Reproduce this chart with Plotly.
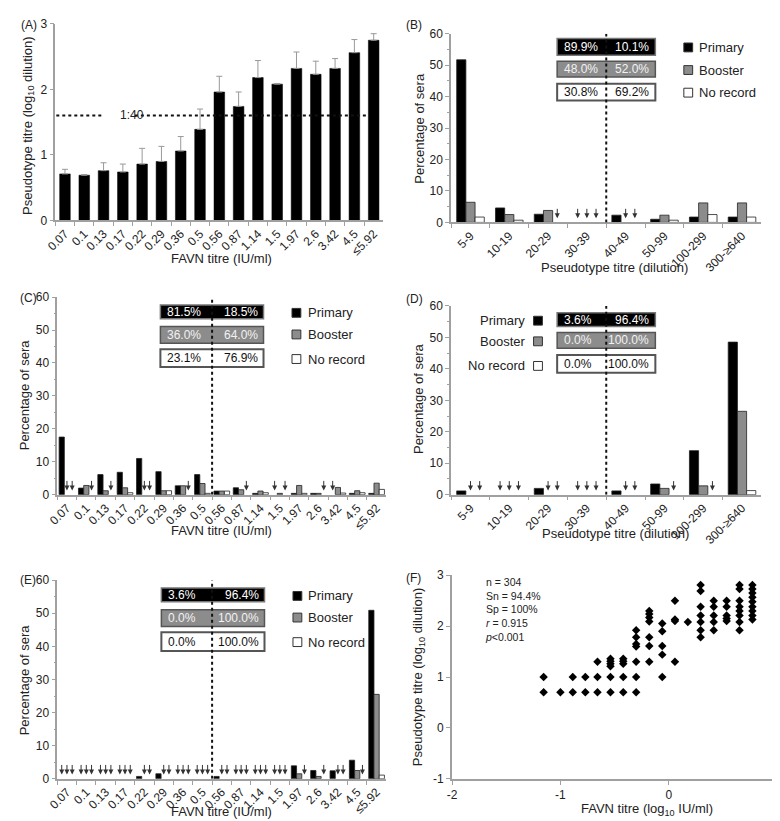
import plotly.graph_objects as go

# ---------------- data ----------------
FAVN_LABELS = ["0.07", "0.1", "0.13", "0.17", "0.22", "0.29", "0.36", "0.5", "0.56",
               "0.87", "1.14", "1.5", "1.97", "2.6", "3.42", "4.5", "≤5.92"]
PSEUDO_LABELS = ["5-9", "10-19", "20-29", "30-39", "40-49", "50-99", "100-299", "300-≥640"]

# (A) mean pseudotype titre (log10 dilution) per FAVN titre, with upper SD
a_mean = [0.71, 0.69, 0.76, 0.74, 0.86, 0.90, 1.06, 1.39, 1.96, 1.74, 2.18, 2.08, 2.32, 2.23, 2.32, 2.56, 2.75]
a_err = [0.07, 0.01, 0.12, 0.12, 0.24, 0.23, 0.22, 0.31, 0.24, 0.22, 0.26, 0.01, 0.25, 0.20, 0.15, 0.20, 0.10]
a_cutoff = 1.602  # log10(40)
a_cutoff_label = "1:40"

SERIES_NAMES = ["Primary", "Booster", "No record"]

# (B) % of sera per pseudotype titre (FAVN < 0.5 IU/ml)
b_primary = [51.7, 4.6, 2.6, 0, 2.3, 1.0, 1.7, 1.7]
b_booster = [6.4, 2.5, 3.8, 0, 0, 2.3, 6.2, 6.2]
b_norecord = [1.7, 0.7, 0, 0, 0, 0.7, 2.5, 1.7]
b_pct = [["89.9%", "10.1%"], ["48.0%", "52.0%"], ["30.8%", "69.2%"]]

# (C) % of sera per FAVN titre (pseudotype < 1:40)
c_primary = [17.5, 2.0, 6.1, 6.8, 11.0, 7.0, 2.7, 6.1, 1.1, 2.1, 0.4, 0, 0.4, 0.4, 0, 0.4, 0.4]
c_booster = [0, 2.8, 1.2, 2.1, 0, 1.2, 2.7, 3.4, 1.1, 1.5, 1.1, 0.4, 2.8, 0.4, 2.2, 1.2, 3.5]
c_norecord = [0, 0, 0, 0.6, 0, 1.2, 0, 0.4, 1.1, 0, 0.6, 0, 0.4, 0, 0.5, 0.6, 1.6]
c_pct = [["81.5%", "18.5%"], ["36.0%", "64.0%"], ["23.1%", "76.9%"]]

# (D) % of sera per pseudotype titre (FAVN >= 0.5 IU/ml)
d_primary = [1.2, 0, 2.0, 0, 1.2, 3.4, 14.0, 48.5]
d_booster = [0, 0, 0, 0, 0, 2.0, 2.8, 26.5]
d_norecord = [0, 0, 0, 0, 0, 0, 0, 1.3]
d_pct = [["3.6%", "96.4%"], ["0.0%", "100.0%"], ["0.0%", "100.0%"]]

# (E) % of sera per FAVN titre (pseudotype >= 1:40)
e_primary = [0, 0, 0, 0, 0.7, 1.5, 0, 0, 0.7, 0, 0, 0, 3.9, 2.5, 2.4, 5.6, 50.9]
e_booster = [0, 0, 0, 0, 0, 0, 0, 0, 0, 0, 0, 0, 1.5, 0.7, 0, 2.5, 25.5]
e_norecord = [0, 0, 0, 0, 0, 0, 0, 0, 0, 0, 0, 0, 0, 0, 0, 0, 1.1]
e_pct = [["3.6%", "96.4%"], ["0.0%", "100.0%"], ["0.0%", "100.0%"]]

# (F) scatter: log10 FAVN titre columns and log10 pseudotype titres in each column
f_favn_log = [-1.155, -1.0, -0.886, -0.770, -0.658, -0.538, -0.420, -0.301, -0.180,
              -0.060, 0.057, 0.176, 0.294, 0.415, 0.534, 0.653, 0.772]
f_pseudo_log = [
    [1.0, 0.70],
    [0.70],
    [1.0, 0.70],
    [1.0, 0.70],
    [1.30, 1.0, 0.70],
    [1.36, 1.31, 1.26, 1.21, 1.0, 0.70],
    [1.36, 1.31, 1.26, 1.0, 0.70],
    [1.92, 1.78, 1.65, 1.60, 1.30, 1.0, 0.70],
    [2.30, 2.24, 2.17, 2.09, 1.78, 1.61, 1.30],
    [2.05, 1.90, 1.61, 1.44, 1.0],
    [2.50, 2.13, 2.10, 1.30],
    [2.08],
    [2.81, 2.69, 2.38, 2.21, 2.08, 1.92, 1.78],
    [2.50, 2.38, 2.21, 2.08, 1.92],
    [2.50, 2.38, 2.21, 2.15, 2.10],
    [2.81, 2.73, 2.50, 2.38, 2.30, 2.21, 2.08, 1.92],
    [2.81, 2.73, 2.65, 2.57, 2.48, 2.38, 2.30, 2.21, 2.13],
]
f_stats = ["n = 304", "Sn = 94.4%", "Sp = 100%", "<i>r</i> = 0.915", "<i>p</i>&lt;0.001"]

# ---------------- style ----------------
W, H = 780, 821
FONT = "Arial, 'Liberation Sans', sans-serif"
TXT = "#222222"
AXC = "#a0a0a0"
FILLS = ["#000000", "#8c8c8c", "#ffffff"]
PCT_TXT = ["#ffffff", "#f2f2f2", "#111111"]
PCT_BORDER = ["#777777", "#555555", "#555555"]


def PX(x):
    return x / W


def PY(y):
    return 1 - y / H


fig = go.Figure()
layout = dict(width=W, height=H, margin=dict(l=0, r=0, t=0, b=0), autosize=False,
              paper_bgcolor="white", plot_bgcolor="white", showlegend=False,
              font=dict(family=FONT, color=TXT, size=12))
shapes = []
annos = []

axis_common = dict(showline=True, linecolor=AXC, linewidth=1.5, ticks="outside", tickcolor=AXC,
                   ticklen=4, tickwidth=1, showgrid=False, zeroline=False, fixedrange=True,
                   tickfont=dict(size=12, color=TXT, family=FONT))


def ax_names(n):
    s = "" if n == 1 else str(n)
    return "x" + s, "y" + s, "xaxis" + s, "yaxis" + s


def cat_xaxis(n, cats, box):
    xa, ya, xk, yk = ax_names(n)
    layout[xk] = dict(axis_common, domain=[PX(box[0]), PX(box[1])], anchor=ya, type="category",
                      categoryorder="array", categoryarray=cats, range=[-0.5, len(cats) - 0.5],
                      tickson="boundaries", tickangle=-45, tickfont=dict(size=12, color=TXT, family=FONT))


def pct_yaxis(n, box):
    xa, ya, xk, yk = ax_names(n)
    layout[yk] = dict(axis_common, domain=[PY(box[3]), PY(box[2])], anchor=xa, range=[0, 60], dtick=10,
                      minor=dict(dtick=5, ticks="outside", ticklen=2, tickcolor=AXC))


def text(x, y, s, size=12, xanchor="center", yanchor="middle", color=TXT, angle=0, align="center"):
    annos.append(dict(x=PX(x), y=PY(y), xref="paper", yref="paper", text=s, showarrow=False,
                      xanchor=xanchor, yanchor=yanchor, textangle=angle, align=align,
                      font=dict(size=size, color=color, family=FONT)))


def add_bar_panel(n, cats, series, w, box, tip=1.3):
    xa, ya, xk, yk = ax_names(n)
    cat_xaxis(n, cats, box)
    pct_yaxis(n, box)
    for k, vals in enumerate(series):
        yv = [v if v > 0 else None for v in vals]
        fig.add_trace(go.Bar(x=cats, y=yv, xaxis=xa, yaxis=ya, width=w, offset=-1.5 * w + k * w,
                             name=SERIES_NAMES[k],
                             marker=dict(color=FILLS[k], line=dict(color="#222222", width=0.8)),
                             hoverinfo="skip"))
        for i, v in enumerate(vals):
            if v == 0:
                annos.append(dict(x=i + (k - 1) * w, y=tip, xref=xa, yref=ya, text="", showarrow=True,
                                  ax=0, ay=-11, arrowhead=2, arrowsize=1, arrowwidth=1,
                                  arrowcolor="#333333"))


def pct_boxes(x0, x1, rows, pct):
    for k, (y0, y1) in enumerate(rows):
        shapes.append(dict(type="rect", xref="paper", yref="paper", x0=PX(x0), x1=PX(x1),
                           y0=PY(y1), y1=PY(y0), fillcolor=FILLS[k],
                           line=dict(color=PCT_BORDER[k], width=2 if k == 2 else 1.5), layer="above"))
        ym = (y0 + y1) / 2
        text(x0 + 5, ym, pct[k][0], size=12, xanchor="left", color=PCT_TXT[k])
        text(x1 - 4, ym, pct[k][1], size=12, xanchor="right", color=PCT_TXT[k])


def legend(sq_x, ys, text_x, side="right"):
    for k, y in enumerate(ys):
        shapes.append(dict(type="rect", xref="paper", yref="paper", x0=PX(sq_x), x1=PX(sq_x + 9),
                           y0=PY(y + 4.5), y1=PY(y - 4.5), fillcolor=FILLS[k],
                           line=dict(color="#333333", width=1)))
        text(text_x, y, SERIES_NAMES[k], size=13, xanchor="left" if side == "right" else "right")


def vdotted(n, xpos):
    xa, ya, xk, yk = ax_names(n)
    shapes.append(dict(type="line", xref=xa, yref=ya, x0=xpos, x1=xpos, y0=0, y1=60,
                       line=dict(color="#111111", width=2, dash="dot"), layer="above"))


# ---------------- (A) ----------------
boxA = (38, 372, 9, 209)
cat_xaxis(1, FAVN_LABELS, boxA)
layout["yaxis"] = dict(axis_common, domain=[PY(boxA[3]), PY(boxA[2])], anchor="x", range=[0, 3], dtick=1)
fig.add_trace(go.Bar(x=FAVN_LABELS, y=a_mean, xaxis="x", yaxis="y", width=0.55, offset=-0.275,
                     marker=dict(color="#000000", line=dict(color="#000000", width=0.5)),
                     error_y=dict(type="data", symmetric=False, array=a_err, arrayminus=[0] * len(a_err),
                                  color="#999999", thickness=1, width=3),
                     hoverinfo="skip"))
for xs in [(39, 86), (119, 357)]:
    shapes.append(dict(type="line", xref="paper", yref="y", x0=PX(xs[0]), x1=PX(xs[1]),
                       y0=a_cutoff, y1=a_cutoff, line=dict(color="#111111", width=2, dash="dot")))
annos.append(dict(x=PX(102), y=a_cutoff, xref="paper", yref="y", text=a_cutoff_label, showarrow=False,
                  font=dict(size=12, color=TXT, family=FONT)))
text(1, 1, "(A)", size=12, xanchor="left", yanchor="top")
text(10, 112, "Pseudotype titre (log<sub>10</sub> dilution)", size=13, angle=-90)
text(207, 248, "FAVN titre (IU/ml)", size=13)

# ---------------- (B) ----------------
boxB = (441, 757, 19, 211)
add_bar_panel(2, PSEUDO_LABELS, [b_primary, b_booster, b_norecord], 0.237, boxB)
pct_boxes(549, 649, [(24, 41), (47, 63), (70, 87)], b_pct)
vdotted(2, 3.5)
legend(678, [33, 56, 79], 691)
text(393, 1, "(B)", size=12, xanchor="left", yanchor="top")
text(408, 115, "Percentage of sera", size=13, angle=-90)
text(607, 257, "Pseudotype titre (dilution)", size=13)

# ---------------- (C) ----------------
boxC = (40, 375, 287, 488)
add_bar_panel(3, FAVN_LABELS, [c_primary, c_booster, c_norecord], 0.27, boxC)
pct_boxes(145, 250, [(295, 309), (317, 334), (340, 358)], c_pct)
vdotted(3, 7.5)
legend(279, [303, 325, 350], 293)
text(0, 279, "(C)", size=12, xanchor="left", yanchor="top")
text(7, 386, "Percentage of sera", size=13, angle=-90)
text(207, 524, "FAVN titre (IU/ml)", size=13)

# ---------------- (D) ----------------
boxD = (441, 757, 296, 488)
add_bar_panel(4, PSEUDO_LABELS, [d_primary, d_booster, d_norecord], 0.237, boxD)
pct_boxes(549, 649, [(303, 317), (323, 339), (346, 364)], d_pct)
vdotted(4, 3.5)
legend(525, [311, 332, 357], 518, side="left")
text(393, 280, "(D)", size=12, xanchor="left", yanchor="top")
text(408, 390, "Percentage of sera", size=13, angle=-90)
text(608, 527, "Pseudotype titre (dilution)", size=13)

# ---------------- (E) ----------------
boxE = (40, 375, 575, 777)
add_bar_panel(5, FAVN_LABELS, [e_primary, e_booster, e_norecord], 0.27, boxE)
pct_boxes(146, 251, [(583, 597), (605, 622), (628, 647)], e_pct)
vdotted(5, 7.5)
legend(280, [591, 613, 638], 293)
text(0, 566, "(E)", size=12, xanchor="left", yanchor="top")
text(7, 676, "Percentage of sera", size=13, angle=-90)
text(207, 810, "FAVN titre (IU/ml)", size=13)

# ---------------- (F) ----------------
boxF = (442, 773, 570, 777)
fx, fy = [], []
for xv, col in zip(f_favn_log, f_pseudo_log):
    for yv in col:
        fx.append(xv)
        fy.append(yv)
fig.add_trace(go.Scatter(x=fx, y=fy, xaxis="x6", yaxis="y6", mode="markers",
                         marker=dict(symbol="diamond", size=6.5, color="#000000"), hoverinfo="skip"))
layout["xaxis6"] = dict(axis_common, domain=[PX(boxF[0]), PX(boxF[1])], anchor="y6", range=[-2, 1],
                        tickvals=[-2, -1, 0, 1], ticktext=["-2", "-1", "0", "1"], linewidth=2)
layout["yaxis6"] = dict(axis_common, domain=[PY(boxF[3]), PY(boxF[2])], anchor="x6", range=[-1, 3],
                        tickvals=[-1, 0, 1, 2, 3], ticktext=["-1", "0", "1", "2", "3"], linewidth=2)
text(473, 569, "<br>".join(f_stats), size=10.5, xanchor="left", yanchor="top", align="left")
text(393, 564, "(F)", size=12, xanchor="left", yanchor="top")
text(408, 673, "Pseudotype titre (log<sub>10</sub> dilution)", size=13, angle=-90)
text(640, 808, "FAVN titre (log<sub>10</sub> IU/ml)", size=13)

layout["shapes"] = shapes
layout["annotations"] = annos
layout["barmode"] = "group"
fig.update_layout(**layout)
fig.write_html("out.html")
